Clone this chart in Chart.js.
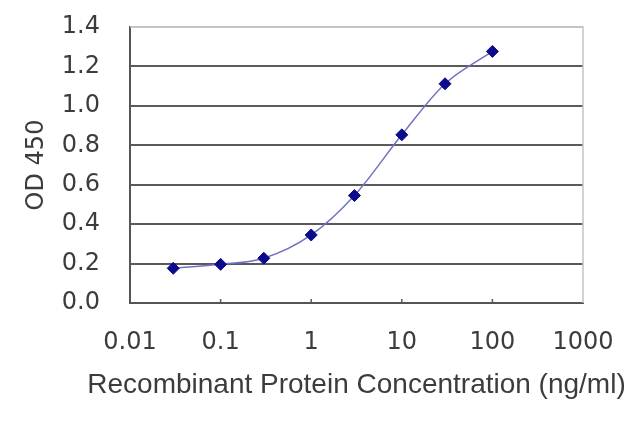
<!DOCTYPE html>
<html>
<head>
<meta charset="utf-8">
<script src="https://cdn.jsdelivr.net/npm/chart.js@4.4.1/dist/chart.umd.min.js"></script>
<style>
    html, body { margin: 0; padding: 0; background: #ffffff; }
    #wrap { width: 640px; height: 427px; }
</style>
</head>
<body>
<div id="wrap"><canvas id="elisaChart"></canvas></div>
<script>
// Values
const concentrations = [0.03, 0.1, 0.3, 1, 3, 10, 30, 100];
const odValues = [0.176, 0.196, 0.227, 0.345, 0.545, 0.853, 1.112, 1.276];
const xTicks = [0.01, 0.1, 1, 10, 100, 1000];
const xTickLabels = ['0.01', '0.1', '1', '10', '100', '1000'];
const yTicks = [0, 0.2, 0.4, 0.6, 0.8, 1.0, 1.2, 1.4];
const xTitle = 'Recombinant Protein Concentration (ng/ml)';

const textColor = '#3c3c3c';
const tickFont = { family: "'DejaVu Sans'", size: 24 };

// Light frame on top/right, small inner ticks on the x axis and the x title
// (drawn here because the scale title gets squeezed to the plot width)
const frameAndTicks = {
    id: 'frameAndTicks',
    beforeDatasetsDraw(chart) {
        const { ctx, chartArea } = chart;
        const xScale = chart.scales.x;
        ctx.save();
        ctx.strokeStyle = '#c4c4c4';
        ctx.lineWidth = 1.5;
        ctx.beginPath();
        ctx.moveTo(chartArea.left, chartArea.top);
        ctx.lineTo(chartArea.right, chartArea.top);
        ctx.lineTo(chartArea.right, chartArea.bottom);
        ctx.stroke();

        ctx.strokeStyle = '#5a5a5a';
        ctx.lineWidth = 1.5;
        xTicks.slice(1, -1).forEach(v => {
            const px = xScale.getPixelForValue(v);
            ctx.beginPath();
            ctx.moveTo(px, chartArea.bottom);
            ctx.lineTo(px, chartArea.bottom - 4);
            ctx.stroke();
        });
        ctx.restore();
    },
    afterDraw(chart) {
        const { ctx, chartArea } = chart;
        ctx.save();
        ctx.font = "28px 'Liberation Sans'";
        ctx.fillStyle = textColor;
        ctx.textAlign = 'center';
        ctx.textBaseline = 'middle';
        ctx.fillText(xTitle, (chartArea.left + chartArea.right) / 2, 385);
        ctx.restore();
    }
};

const ctx = document.getElementById('elisaChart');

new Chart(ctx, {
    type: 'line',
    data: {
        datasets: [{
            data: concentrations.map((c, i) => ({ x: c, y: odValues[i] })),
            borderColor: '#7272c4',
            borderWidth: 1.5,
            cubicInterpolationMode: 'monotone',
            pointStyle: 'rectRot',
            pointRadius: 6,
            pointBackgroundColor: '#0b0b8c',
            pointBorderColor: '#0b0b8c',
            pointBorderWidth: 1,
            fill: false
        }]
    },
    options: {
        responsive: true,
        maintainAspectRatio: false,
        animation: false,
        layout: {
            padding: { top: 27, right: 57, left: 0, bottom: 0 }
        },
        plugins: {
            legend: { display: false },
            tooltip: { enabled: false }
        },
        scales: {
            x: {
                type: 'logarithmic',
                min: 0.01,
                max: 1000,
                afterBuildTicks: function(scale) {
                    scale.ticks = xTicks.map(v => ({ value: v }));
                },
                afterFit: function(scale) {
                    scale.height = 124;
                },
                grid: { display: false, drawTicks: false },
                border: { display: true, color: '#555555', width: 2 },
                ticks: {
                    autoSkip: false,
                    maxRotation: 0,
                    padding: 25,
                    color: textColor,
                    font: tickFont,
                    callback: function(value) {
                        const idx = xTicks.indexOf(value);
                        return idx >= 0 ? xTickLabels[idx] : '';
                    }
                }
            },
            y: {
                min: 0,
                max: 1.4,
                afterBuildTicks: function(scale) {
                    scale.ticks = yTicks.map(v => ({ value: v }));
                },
                afterFit: function(scale) {
                    scale.width = 130;
                },
                grid: {
                    drawTicks: true,
                    tickLength: 27,
                    tickColor: 'rgba(0,0,0,0)',
                    color: function(context) {
                        const v = context.tick ? context.tick.value : 0;
                        if (v === 0) return 'rgba(0,0,0,0)';
                        if (Math.abs(v - 1.4) < 1e-9) return '#c4c4c4';
                        return '#5a5a5a';
                    },
                    lineWidth: 2
                },
                border: { display: true, color: '#555555', width: 2 },
                ticks: {
                    padding: 3,
                    color: textColor,
                    font: tickFont,
                    callback: function(value) {
                        return value.toFixed(1);
                    }
                },
                title: {
                    display: true,
                    text: 'OD 450',
                    color: textColor,
                    font: tickFont,
                    padding: { top: 22, bottom: 0 }
                }
            }
        }
    },
    plugins: [frameAndTicks]
});
</script>
</body>
</html>
